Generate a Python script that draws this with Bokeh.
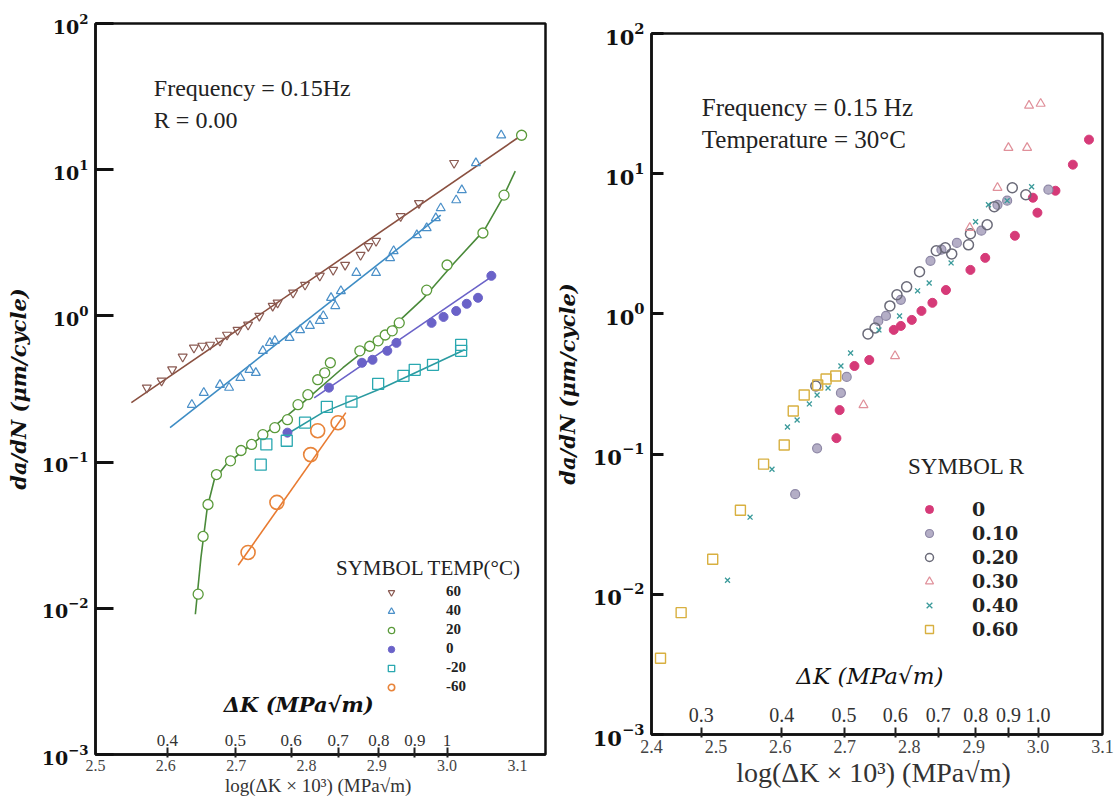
import numpy as np
from bokeh.plotting import figure
from bokeh.models import Range1d, FixedTicker, Legend, LegendItem, Label, CustomJSTickFormatter
from bokeh.layouts import row
from bokeh.embed import file_html
from bokeh.resources import INLINE
from bokeh.core.properties import value

# ---------------- Left panel data (temperature series, R = 0.00) ----------------
t60_x = [2.573, 2.594, 2.609, 2.624, 2.640, 2.652, 2.663, 2.677, 2.687, 2.702, 2.717, 2.733, 2.752,
         2.759, 2.781, 2.798, 2.819, 2.838, 2.855, 2.877, 2.888, 2.899, 2.934, 2.960, 3.010]
t60_y = [0.323, 0.36, 0.43, 0.525, 0.605, 0.624, 0.634, 0.675, 0.742, 0.80, 0.87, 1.0, 1.17,
         1.23, 1.44, 1.63, 1.88, 2.06, 2.23, 2.61, 3.0, 3.25, 4.8, 5.9, 11.1]
t40_x = [2.637, 2.654, 2.677, 2.690, 2.706, 2.719, 2.728, 2.738, 2.748, 2.755, 2.776, 2.791, 2.805,
         2.819, 2.824, 2.841, 2.835, 2.849, 2.871, 2.899, 2.919, 2.924, 2.957, 2.971, 2.984, 2.991,
         3.013, 3.021, 3.041, 3.077]
t40_y = [0.247, 0.298, 0.338, 0.323, 0.377, 0.428, 0.408, 0.577, 0.654, 0.675, 0.708, 0.80, 0.855,
         0.925, 1.0, 1.17, 1.33, 1.48, 1.97, 1.97, 2.49, 2.78, 3.57, 3.99, 4.67, 5.46,
         6.19, 7.25, 11.1, 17.2]
t20_x = [2.646, 2.653, 2.660, 2.672, 2.692, 2.707, 2.722, 2.738, 2.755, 2.773, 2.788, 2.802, 2.816,
         2.826, 2.834, 2.876, 2.890, 2.902, 2.912, 2.922, 2.932, 2.971, 3.000, 3.051, 3.081, 3.106]
t20_y = [0.0125, 0.031, 0.0513, 0.0822, 0.102, 0.12, 0.132, 0.154, 0.172, 0.195, 0.247, 0.289, 0.366,
         0.408, 0.478, 0.577, 0.62, 0.675, 0.74, 0.79, 0.896, 1.5, 2.23, 3.69, 6.7, 17.2]
t0_x = [2.773, 2.832, 2.879, 2.894, 2.915, 2.928, 2.978, 2.995, 3.013, 3.028, 3.044, 3.063]
t0_y = [0.159, 0.323, 0.478, 0.501, 0.577, 0.654, 0.896, 0.984, 1.08, 1.21, 1.33, 1.88]
tm20_x = [2.735, 2.743, 2.772, 2.798, 2.829, 2.864, 2.902, 2.938, 2.954, 2.980, 3.020, 3.020]
tm20_y = [0.0961, 0.132, 0.14, 0.186, 0.239, 0.259, 0.343, 0.389, 0.428, 0.463, 0.634, 0.577]
tm60_x = [2.717, 2.758, 2.806, 2.816, 2.845]
tm60_y = [0.0241, 0.053, 0.1125, 0.164, 0.186]

# fitted curves (left panel)
f60_x = [2.551, 3.106]
f60_y = [0.255, 17.2]
f40_x = [2.606, 2.991]
f40_y = [0.172, 4.89]
f20_x = [2.642, 2.650, 2.659, 2.669, 2.687, 2.738, 2.795, 2.852, 2.909, 2.967, 3.010, 3.053, 3.079, 3.097]
f20_y = [0.0091, 0.0223, 0.0489, 0.076, 0.0977, 0.152, 0.255, 0.442, 0.73, 1.33, 2.30, 3.86, 6.39, 9.77]
f0_x = [2.811, 3.063]
f0_y = [0.275, 1.85]
fm20_x = [2.769, 2.823, 2.909, 3.025]
fm20_y = [0.152, 0.218, 0.323, 0.586]
fm60_x = [2.703, 2.856]
fm60_y = [0.0197, 0.218]

temp_labels = ["60", "40", "20", "0", "-20", "-60"]

# ---------------- Right panel data (R series, 30 C) ----------------
r0_x = [3.079, 3.054, 3.027, 2.999, 2.992, 2.964, 2.918, 2.895, 2.857, 2.836, 2.819, 2.804, 2.787,
        2.776, 2.738, 2.715, 2.692, 2.687]
r0_y = [17.5, 11.6, 7.56, 5.27, 6.74, 3.61, 2.51, 2.06, 1.48, 1.2, 1.05, 0.906, 0.821,
        0.769, 0.469, 0.425, 0.206, 0.13]
r10_x = [2.623, 2.657, 2.694, 2.703, 2.752, 2.764, 2.787, 2.833, 2.850, 2.874, 2.912, 2.937, 2.952, 3.016]
r10_y = [0.0518, 0.11, 0.273, 0.355, 0.891, 0.967, 1.26, 2.39, 2.87, 3.21, 3.92, 6.0, 6.42, 7.69]
r20_x = [2.655, 2.736, 2.747, 2.770, 2.781, 2.796, 2.816, 2.842, 2.856, 2.866, 2.892, 2.895, 2.921,
         2.932, 2.960, 2.981]
r20_y = [0.306, 0.72, 0.794, 1.14, 1.37, 1.56, 2.0, 2.82, 2.96, 2.68, 3.11, 3.73, 4.32,
         5.81, 7.94, 7.08]
r30_x = [2.986, 3.004, 2.954, 2.983, 2.937, 2.894, 2.778, 2.729]
r30_y = [30.6, 31.6, 15.3, 15.3, 7.94, 4.11, 0.501, 0.224]
r40_x = [2.518, 2.553, 2.587, 2.611, 2.626, 2.645, 2.657, 2.674, 2.694, 2.709, 2.753, 2.785, 2.813,
         2.831, 2.865, 2.903, 2.923, 2.952, 2.990]
r40_y = [0.0126, 0.0355, 0.078, 0.156, 0.175, 0.228, 0.264, 0.296, 0.425, 0.526, 0.769, 0.967, 1.46,
         1.66, 2.31, 4.54, 6.0, 6.42, 8.07]
r60_x = [2.414, 2.446, 2.495, 2.538, 2.574, 2.606, 2.620, 2.637, 2.658, 2.671, 2.686]
r60_y = [0.0035, 0.0074, 0.0178, 0.0398, 0.0848, 0.116, 0.203, 0.264, 0.311, 0.343, 0.361]

r_labels = ["0", "0.10", "0.20", "0.30", "0.40", "0.60"]

# ---------------- Axis tick values ----------------
left_log_ticks = [2.5, 2.6, 2.7, 2.8, 2.9, 3.0, 3.1]
left_dk_ticks = [0.4, 0.5, 0.6, 0.7, 0.8, 0.9, 1.0]
left_dk_labels = ["0.4", "0.5", "0.6", "0.7", "0.8", "0.9", "1"]
right_log_ticks = [2.4, 2.5, 2.6, 2.7, 2.8, 2.9, 3.0, 3.1]
right_dk_ticks = [0.3, 0.4, 0.5, 0.6, 0.7, 0.8, 0.9, 1.0]
right_dk_labels = ["0.3", "0.4", "0.5", "0.6", "0.7", "0.8", "0.9", "1.0"]

SERIF = "Liberation Serif"
MATH = "DejaVu Serif"


def make_fig(width, xr, ml, mr, mt, mb, log_ticks, dk_ticks, dk_labels, dk_label_y,
             ytick_size, ytick_len, xtick_size, xlabel_size, ylabel_size, dk_size, ylab_standoff):
    p = figure(width=width, height=800, y_axis_type="log",
               x_range=Range1d(*xr), y_range=Range1d(1e-3, 1e2),
               output_backend="svg", toolbar_location=None,
               min_border_left=ml, min_border_right=mr, min_border_top=mt, min_border_bottom=mb)
    if "frame_align" in p.properties():
        p.frame_align = False
    p.xgrid.visible = False
    p.ygrid.visible = False
    p.outline_line_color = "#111111"
    p.outline_line_width = 2.5
    p.outline_line_alpha = 1.0
    p.background_fill_color = "white"
    p.border_fill_color = "white"

    dk_pos = list(np.log10(np.array(dk_ticks) * 1000.0))
    xa = p.xaxis[0]
    xa.ticker = FixedTicker(ticks=log_ticks, minor_ticks=dk_pos)
    xa.formatter = CustomJSTickFormatter(code="return tick.toFixed(1)")
    xa.major_tick_in = 0
    xa.major_tick_out = 0
    xa.minor_tick_in = 7
    xa.minor_tick_out = 3
    xa.minor_tick_line_width = 2
    xa.minor_tick_line_color = "#222222"
    xa.axis_line_width = 2.5
    xa.axis_line_color = "#111111"
    xa.major_label_text_font = SERIF
    xa.major_label_text_font_size = f"{xtick_size}px"
    xa.major_label_text_color = "#444444"
    xa.major_label_standoff = 2
    xa.axis_label = "log(ΔK × 10³)  (MPa√m)"
    xa.axis_label_text_font = SERIF
    xa.axis_label_text_font_style = "normal"
    xa.axis_label_text_font_size = f"{xlabel_size}px"
    xa.axis_label_text_color = "#333333"
    xa.axis_label_standoff = 1

    ya = p.yaxis[0]
    ya.major_tick_in = ytick_len
    ya.major_tick_out = 0
    ya.major_tick_line_width = 3
    ya.major_tick_line_color = "#111111"
    ya.minor_tick_line_color = None
    ya.axis_line_width = 2.5
    ya.axis_line_color = "#111111"
    ya.major_label_text_font = MATH
    ya.major_label_text_font_style = "bold"
    ya.major_label_text_font_size = f"{ytick_size}px"
    ya.major_label_text_color = "#111111"
    ya.major_label_standoff = 3
    ya.axis_label = "da/dN (μm/cycle)"
    ya.axis_label_text_font = MATH
    ya.axis_label_text_font_style = "bold italic"
    ya.axis_label_text_font_size = f"{ylabel_size}px"
    ya.axis_label_text_color = "#111111"
    ya.axis_label_standoff = ylab_standoff

    # ΔK secondary scale labels just above the bottom axis line
    p.text(x=dk_pos, y=[dk_label_y] * len(dk_pos), text=dk_labels,
           text_font=value(SERIF), text_font_size=f"{dk_size}px", text_color="#333333",
           text_align="center", text_baseline="bottom")
    return p


# ================= LEFT PANEL =================
pl = make_fig(550, (2.5, 3.14), 95, 5, 23, 46, left_log_ticks, left_dk_ticks, left_dk_labels, 1.15e-3,
              ytick_size=19, ytick_len=18, xtick_size=16, xlabel_size=19, ylabel_size=21, dk_size=17,
              ylab_standoff=8)

c60, c40, c20, c0, cm20, cm60 = "#8a5a52", "#4a8fc8", "#5a9a3a", "#6a62c8", "#2aa8b0", "#e8843a"
pl.line(f60_x, f60_y, line_color="#8a5040", line_width=1.6)
pl.line(f40_x, f40_y, line_color="#3d8cc4", line_width=1.6)
pl.line(f20_x, f20_y, line_color="#4a8a3a", line_width=1.6)
pl.line(f0_x, f0_y, line_color="#6a62c8", line_width=1.6)
pl.line(fm20_x, fm20_y, line_color="#2a9aa0", line_width=1.6)
pl.line(fm60_x, fm60_y, line_color="#e87a30", line_width=1.6)

s60 = pl.scatter(t60_x, t60_y, marker="inverted_triangle", size=9, line_color=c60, fill_color=None, line_width=1.2)
s40 = pl.scatter(t40_x, t40_y, marker="triangle", size=9, line_color=c40, fill_color=None, line_width=1.2)
s20 = pl.scatter(t20_x, t20_y, marker="circle", size=10, line_color=c20, fill_color="white", line_width=1.3)
s0 = pl.scatter(t0_x, t0_y, marker="circle", size=9, line_color=c0, fill_color=c0, line_width=1)
sm20 = pl.scatter(tm20_x, tm20_y, marker="square", size=11, line_color=cm20, fill_color=None, line_width=1.3)
sm60 = pl.scatter(tm60_x, tm60_y, marker="circle", size=14, line_color=cm60, fill_color=None, line_width=1.6)

leg_l = Legend(items=[LegendItem(label=lab, renderers=[r]) for lab, r in
                      zip(temp_labels, [s60, s40, s20, s0, sm20, sm60])],
               location=(241, 59), title="SYMBOL TEMP(°C)",
               title_text_font=SERIF, title_text_font_size="21px", title_text_font_style="normal",
               title_text_color="#222222", title_standoff=2,
               label_text_font=SERIF, label_text_font_style="bold", label_text_font_size="15px",
               label_text_color="#222222",
               glyph_width=110, glyph_height=16, label_height=16, label_standoff=0, spacing=2,
               padding=0, margin=0, border_line_color=None, background_fill_alpha=0)
pl.add_layout(leg_l)

pl.add_layout(Label(x=2.583, y=44.2, text="Frequency = 0.15Hz\nR = 0.00", text_font=SERIF,
                    text_font_size="24px", text_color="#222222", text_baseline="top", text_align="left"))
pl.add_layout(Label(x=2.789, y=2.21e-3, text="ΔK (MPa√m)", text_font=MATH,
                    text_font_size="21px", text_font_style="bold italic", text_color="#111111",
                    text_baseline="middle", text_align="center"))

# ================= RIGHT PANEL =================
pr = make_fig(566, (2.4, 3.1), 101, 14, 33, 66, right_log_ticks, right_dk_ticks, right_dk_labels, 1.22e-3,
              ytick_size=21, ytick_len=12, xtick_size=18, xlabel_size=28, ylabel_size=21, dk_size=20,
              ylab_standoff=10)

k0, k10, k20, k30, k40, k60 = "#d63a78", "#8e88a6", "#6a6a78", "#e0909a", "#3a9a9a", "#d8b040"
q0 = pr.scatter(r0_x, r0_y, marker="circle", size=9, line_color=k0, fill_color=k0)
q10 = pr.scatter(r10_x, r10_y, marker="circle", size=9, line_color=k10, fill_color="#b4aec6", line_width=1.2)
q20 = pr.scatter(r20_x, r20_y, marker="circle", size=10, line_color=k20, fill_color=None, line_width=1.5)
q30 = pr.scatter(r30_x, r30_y, marker="triangle", size=9, line_color=k30, fill_color=None, line_width=1.2)
q40 = pr.scatter(r40_x, r40_y, marker="x", size=7, line_color=k40, line_width=1.3)
q60 = pr.scatter(r60_x, r60_y, marker="square", size=10, line_color=k60, fill_color=None, line_width=1.4)

leg_r = Legend(items=[LegendItem(label=lab, renderers=[r]) for lab, r in
                      zip(r_labels, [q0, q10, q20, q30, q40, q60])],
               location=(257, 94), title="SYMBOL R",
               title_text_font=SERIF, title_text_font_size="23px", title_text_font_style="normal",
               title_text_color="#222222", title_standoff=18,
               label_text_font=MATH, label_text_font_style="bold", label_text_font_size="19px",
               label_text_color="#222222",
               glyph_width=42, glyph_height=20, label_height=20, label_standoff=22, spacing=2,
               padding=0, margin=0, border_line_color=None, background_fill_alpha=0)
pr.add_layout(leg_r)

pr.add_layout(Label(x=2.478, y=37.3, text="Frequency = 0.15 Hz\nTemperature = 30°C", text_font=SERIF,
                    text_font_size="25px", text_color="#222222", text_baseline="top", text_align="left"))
pr.add_layout(Label(x=2.739, y=2.6e-3, text="ΔK (MPa√m)", text_font=MATH,
                    text_font_size="23px", text_font_style="italic", text_color="#111111",
                    text_baseline="middle", text_align="center"))

layout = row(pl, pr)
open("out.html", "w").write(file_html(layout, INLINE))
